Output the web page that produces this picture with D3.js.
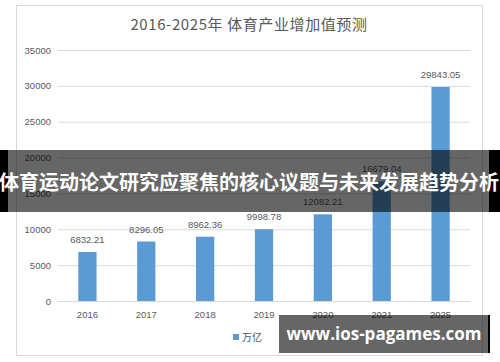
<!DOCTYPE html>
<html>
<head>
<meta charset="utf-8">
<script src="https://cdn.jsdelivr.net/npm/d3@7"></script>
<style>
  body { margin: 0; background: #fff; }
  svg { display: block; }
</style>
</head>
<body>
<div id="chart"></div>
<script>
// data
var years = ["2016", "2017", "2018", "2019", "2020", "2021", "2025"];
var values = [6832.21, 8296.05, 8962.36, 9998.78, 12082.21, 16679.04, 29843.05];
var labels = ["6832.21", "8296.05", "8962.36", "9998.78", "12082.21", "16679.04", "29843.05"];
var yTicks = [0, 5000, 10000, 15000, 20000, 25000, 30000, 35000];

var W = 500, H = 362;
var barColor = "#5b9bd5", textColor = "#595959", gridColor = "#d9d9d9";
var numFont = "'Liberation Sans', Arial, sans-serif";
var cjkFont = "'Noto Sans CJK SC', sans-serif";

var svg = d3.select("#chart").append("svg")
    .attr("width", W).attr("height", H);

// chart frame
svg.append("rect")
    .attr("x", 16.5).attr("y", 5.5)
    .attr("width", 466).attr("height", 350)
    .attr("fill", "#fff").attr("stroke", gridColor);

// title
svg.append("text")
    .attr("x", 249).attr("y", 30)
    .attr("text-anchor", "middle")
    .style("font-family", cjkFont).style("font-size", "15px")
    .style("letter-spacing", "0.6px")
    .attr("fill", textColor)
    .text("2016-2025年 体育产业增加值预测");

var plot = {l: 58, r: 470, t: 50, b: 301};

var x = d3.scaleBand().domain(years)
    .range([plot.l, plot.r]).paddingInner(0.69).paddingOuter(0.345);

var y = d3.scaleLinear().domain([0, 35000]).range([plot.b, plot.t]);

// gridlines + y labels
var yAxis = svg.append("g")
    .attr("transform", "translate(" + plot.l + ",0)")
    .call(d3.axisLeft(y).tickValues(yTicks).tickFormat(d3.format("d"))
        .tickSize(-(plot.r - plot.l)).tickPadding(7));
yAxis.select(".domain").remove();
yAxis.selectAll(".tick line").attr("stroke", gridColor);
yAxis.selectAll(".tick text")
    .attr("fill", textColor)
    .style("font-family", numFont).style("font-size", "9.5px");

// x labels
var xAxis = svg.append("g")
    .attr("transform", "translate(0," + plot.b + ")")
    .call(d3.axisBottom(x).tickSize(0).tickPadding(10));
xAxis.select(".domain").remove();
xAxis.selectAll(".tick text")
    .attr("fill", textColor)
    .style("font-family", numFont).style("font-size", "9.5px");

// bars
svg.selectAll(".bar").data(values).enter().append("rect")
    .attr("class", "bar")
    .attr("x", function(d, i) { return x(years[i]); })
    .attr("y", function(d) { return y(d); })
    .attr("width", x.bandwidth())
    .attr("height", function(d) { return plot.b - y(d); })
    .attr("fill", barColor);

// value labels
svg.selectAll(".val").data(values).enter().append("text")
    .attr("class", "val")
    .attr("x", function(d, i) { return x(years[i]) + x.bandwidth() / 2; })
    .attr("y", function(d) { return y(d) - 9; })
    .attr("text-anchor", "middle")
    .attr("fill", textColor)
    .style("font-family", numFont).style("font-size", "9.5px")
    .text(function(d, i) { return labels[i]; });

// legend
svg.append("rect")
    .attr("x", 233).attr("y", 334)
    .attr("width", 6).attr("height", 6)
    .attr("fill", barColor);
svg.append("text")
    .attr("x", 242).attr("y", 341)
    .attr("fill", textColor)
    .style("font-family", cjkFont).style("font-size", "10px")
    .text("万亿");

// overlay banner
svg.append("rect")
    .attr("x", 0).attr("y", 150).attr("width", W).attr("height", 62)
    .attr("fill", "rgba(0,0,0,0.6)");
svg.append("rect")
    .attr("x", 0).attr("y", 150).attr("width", 8).attr("height", 62)
    .attr("fill", "#000");
svg.append("rect")
    .attr("x", 489).attr("y", 150).attr("width", 11).attr("height", 62)
    .attr("fill", "#000");
svg.append("text")
    .attr("x", 249).attr("y", 190)
    .attr("text-anchor", "middle")
    .attr("fill", "#fff")
    .style("font-family", cjkFont).style("font-size", "20px").style("font-weight", "bold")
    .text("体育运动论文研究应聚焦的核心议题与未来发展趋势分析");

// watermark
svg.append("rect")
    .attr("x", 279).attr("y", 315).attr("width", 210).attr("height", 38)
    .attr("fill", "rgba(0,0,0,0.6)");
svg.append("rect")
    .attr("x", 488).attr("y", 315).attr("width", 2).attr("height", 38)
    .attr("fill", "#000");
svg.append("text")
    .attr("x", 384).attr("y", 340)
    .attr("text-anchor", "middle")
    .attr("fill", "#fff")
    .style("font-family", "'Open Sans', sans-serif").style("font-size", "17px").style("font-weight", "bold")
    .text("www.ios-pagames.com");
</script>
</body>
</html>
